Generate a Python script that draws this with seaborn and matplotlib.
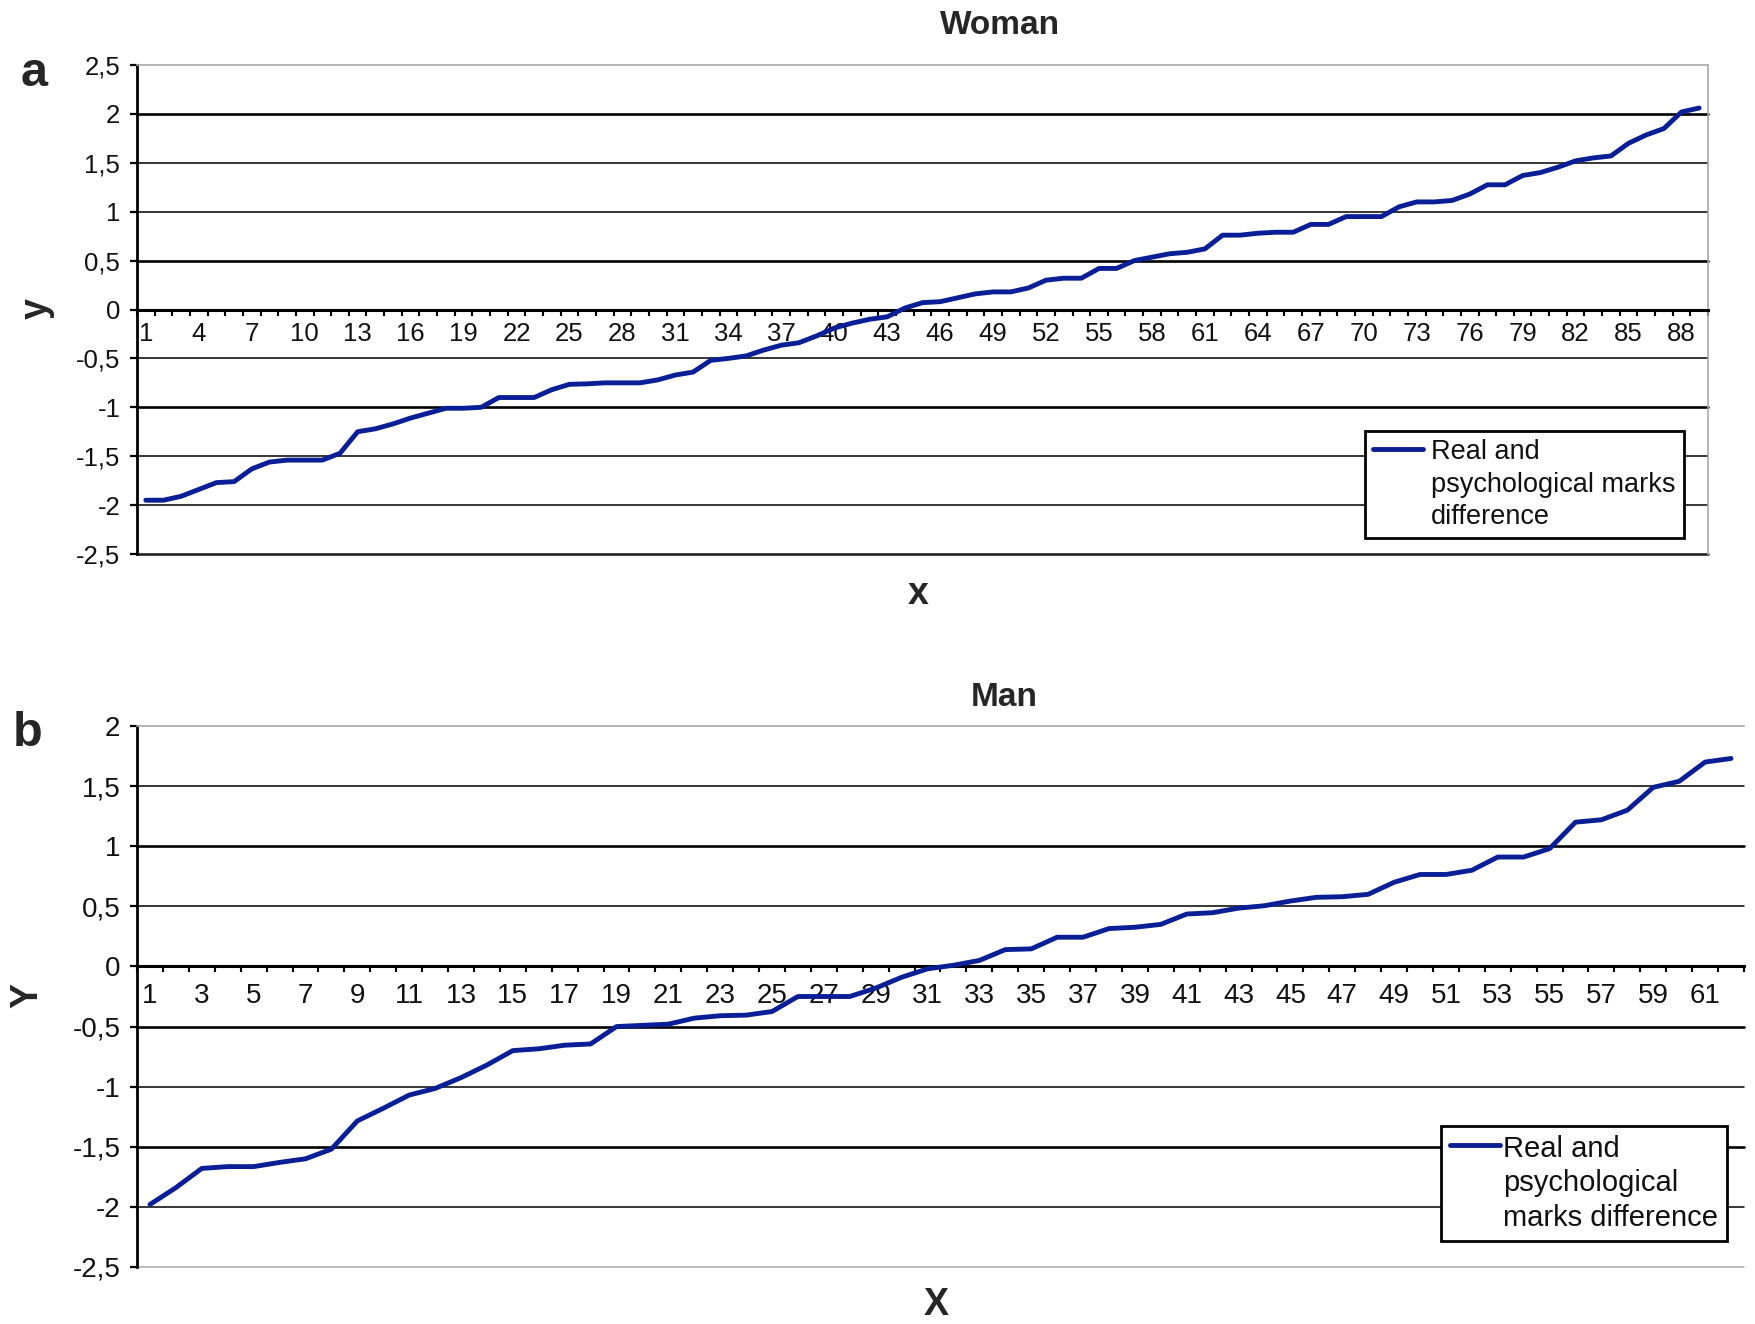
import numpy as np
import pandas as pd
import matplotlib
matplotlib.use("Agg")
import matplotlib.pyplot as plt
from matplotlib.ticker import FixedLocator, FuncFormatter
import seaborn as sns

# Difference between real and psychological marks, sorted ascending
woman_diff = [
    -1.95, -1.95, -1.91, -1.84, -1.77, -1.76, -1.63, -1.56, -1.54, -1.54,
    -1.54, -1.47, -1.25, -1.22, -1.17, -1.11, -1.06, -1.01, -1.01, -1.00,
    -0.90, -0.90, -0.90, -0.82, -0.765, -0.76, -0.75, -0.75, -0.75, -0.72,
    -0.67, -0.64, -0.52, -0.50, -0.475, -0.415, -0.365, -0.34, -0.27, -0.19,
    -0.14, -0.10, -0.075, 0.015, 0.07, 0.08, 0.12, 0.16, 0.18, 0.18,
    0.22, 0.30, 0.32, 0.32, 0.42, 0.42, 0.50, 0.535, 0.57, 0.585,
    0.62, 0.76, 0.76, 0.78, 0.79, 0.79, 0.87, 0.87, 0.95, 0.95,
    0.95, 1.05, 1.10, 1.10, 1.115, 1.18, 1.275, 1.275, 1.37, 1.40,
    1.455, 1.52, 1.55, 1.57, 1.70, 1.785, 1.85, 2.02, 2.06,
]
man_diff = [
    -1.98, -1.84, -1.68, -1.665, -1.665, -1.63, -1.60, -1.52, -1.285, -1.18,
    -1.07, -1.015, -0.925, -0.82, -0.70, -0.685, -0.655, -0.645, -0.50, -0.49,
    -0.48, -0.43, -0.41, -0.405, -0.375, -0.25, -0.25, -0.25, -0.18, -0.09,
    -0.02, 0.01, 0.05, 0.14, 0.146, 0.243, 0.243, 0.315, 0.326, 0.35,
    0.436, 0.447, 0.485, 0.505, 0.544, 0.575, 0.58, 0.60, 0.70, 0.765,
    0.765, 0.80, 0.91, 0.91, 0.98, 1.20, 1.22, 1.30, 1.49, 1.54,
    1.70, 1.73,
]
woman_xlabels = list(range(1, len(woman_diff) + 1, 3))
man_xlabels = list(range(1, len(man_diff) + 1, 2))
woman_yticks = [2.5, 2, 1.5, 1, 0.5, 0, -0.5, -1, -1.5, -2, -2.5]
man_yticks = [2, 1.5, 1, 0.5, 0, -0.5, -1, -1.5, -2, -2.5]

woman_legend = "Real and\npsychological marks\ndifference"
man_legend = "Real and\npsychological\nmarks difference"

LINE = "#0a1e96"
GRAY = "#a8a8a8"

sns.set_theme(style="white")
plt.rcParams["font.family"] = ["Liberation Sans", "DejaVu Sans"]

W, H = 1756, 1324
fig = plt.figure(figsize=(W / 100, H / 100), dpi=100)
fig.patch.set_facecolor("white")


def frac_box(left, top, right, bottom):
    return [left / W, 1 - bottom / H, (right - left) / W, (bottom - top) / H]


comma = FuncFormatter(lambda v, _: f"{v:g}".replace(".", ","))


def panel(ax, values, xlabels, yticks, grid_style, fs_tick, xpad,
          leg_text, leg_fs, leg_anchor, handlelength, handletextpad,
          linespacing, right_border):
    n = len(values)
    df = pd.DataFrame({"x": np.arange(1, n + 1), "y": values})
    sns.lineplot(data=df, x="x", y="y", ax=ax, color=LINE, linewidth=3.5,
                 label=leg_text, zorder=5)
    ax.set_xlim(0.5, n + 0.5)
    ax.set_ylim(min(yticks), max(yticks))

    # horizontal grid lines at every 0.5
    for yv, (lw, col) in zip(yticks, grid_style):
        if yv == 0 or lw == 0:
            continue
        ax.axhline(yv, color=col, lw=lw, zorder=1, clip_on=False)

    # spines: left axis and the category axis crossing at zero
    ax.spines["bottom"].set_position(("data", 0))
    ax.spines["bottom"].set_linewidth(2.2)
    ax.spines["bottom"].set_color("black")
    ax.spines["bottom"].set_zorder(4)
    ax.spines["left"].set_linewidth(2.0)
    ax.spines["left"].set_color("black")
    ax.spines["top"].set_color(GRAY)
    ax.spines["top"].set_linewidth(1.2)
    if right_border:
        ax.spines["right"].set_color(GRAY)
        ax.spines["right"].set_linewidth(1.2)
    else:
        ax.spines["right"].set_visible(False)

    ax.set_yticks(yticks)
    ax.yaxis.set_major_formatter(comma)
    ax.tick_params(axis="y", which="major", left=True, length=5, width=1.6,
                   direction="out", color="black", pad=7, labelsize=fs_tick,
                   labelcolor="#111111")

    ax.xaxis.set_major_locator(FixedLocator(xlabels))
    ax.set_xticklabels([str(v) for v in xlabels])
    ax.xaxis.set_minor_locator(FixedLocator(np.arange(0.5, n + 1, 1.0)))
    ax.tick_params(axis="x", which="major", bottom=True, length=0,
                   pad=xpad, labelsize=fs_tick, labelcolor="#111111")
    ax.tick_params(axis="x", which="minor", bottom=True, length=4.5,
                   width=1.5, direction="out", color="black")
    ax.set_xlabel("")
    ax.set_ylabel("")
    ax.grid(False)

    leg = ax.legend(loc="upper left", bbox_to_anchor=leg_anchor,
                    bbox_transform=fig.transFigure, borderaxespad=0,
                    frameon=True, fancybox=False, edgecolor="black",
                    framealpha=1, fontsize=leg_fs, handlelength=handlelength,
                    handletextpad=handletextpad, borderpad=0.3)
    leg.get_frame().set_linewidth(2.0)
    leg.set_zorder(10)
    for txt in leg.get_texts():
        txt.set_linespacing(linespacing)
        txt.set_color("#111111")
    # keep the legend key level with the first text line
    for col in leg._legend_handle_box.get_children():
        for row in col.get_children():
            row.align = "top"


thin, thick = 1.1, 1.9
ax1 = fig.add_axes(frac_box(137, 65, 1708, 554))
panel(ax1, woman_diff, woman_xlabels, woman_yticks,
      [(0, GRAY), (thick, "black"), (thin, "black"), (thin, "black"),
       (thick, "black"), (0, "black"), (thin, "black"), (thick, "black"),
       (thin, "black"), (thin, "black"), (thick, "#222222")],
      fs_tick=18.5, xpad=9, leg_text=woman_legend, leg_fs=19.5,
      leg_anchor=(1365 / W, 1 - 431 / H), handlelength=1.85,
      handletextpad=0.3, linespacing=1.32, right_border=True)

ax2 = fig.add_axes(frac_box(137, 726, 1744, 1267))
panel(ax2, man_diff, man_xlabels, man_yticks,
      [(0, GRAY), (thin, "black"), (thick, "black"), (thin, "black"),
       (0, "black"), (thick, "black"), (thin, "black"), (thick, "black"),
       (thin, "black"), (thin, GRAY)],
      fs_tick=20, xpad=12, leg_text=man_legend, leg_fs=21,
      leg_anchor=(1441 / W, 1 - 1126 / H), handlelength=1.72,
      handletextpad=0.12, linespacing=1.3, right_border=False)

# titles, axis names and panel letters
fig.text(1000 / W, 1 - 25 / H, "Woman", ha="center", va="center",
         fontsize=24, fontweight="bold")
fig.text(1004 / W, 1 - 697 / H, "Man", ha="center", va="center",
         fontsize=24, fontweight="bold")
fig.text(918 / W, 1 - 594 / H, "x", ha="center", va="center",
         fontsize=27, fontweight="bold")
fig.text(936 / W, 1 - 1305 / H, "X", ha="center", va="center",
         fontsize=27, fontweight="bold")
fig.text(37 / W, 1 - 309 / H, "y", ha="center", va="center",
         fontsize=27, fontweight="bold", rotation=90)
fig.text(27 / W, 1 - 995 / H, "Y", ha="center", va="center",
         fontsize=27, fontweight="bold", rotation=90)
fig.text(34 / W, 1 - 73 / H, "a", ha="center", va="center",
         fontsize=35, fontweight="bold")
fig.text(28 / W, 1 - 734 / H, "b", ha="center", va="center",
         fontsize=35, fontweight="bold")

fig.savefig("out.png", dpi=100, facecolor="white")
